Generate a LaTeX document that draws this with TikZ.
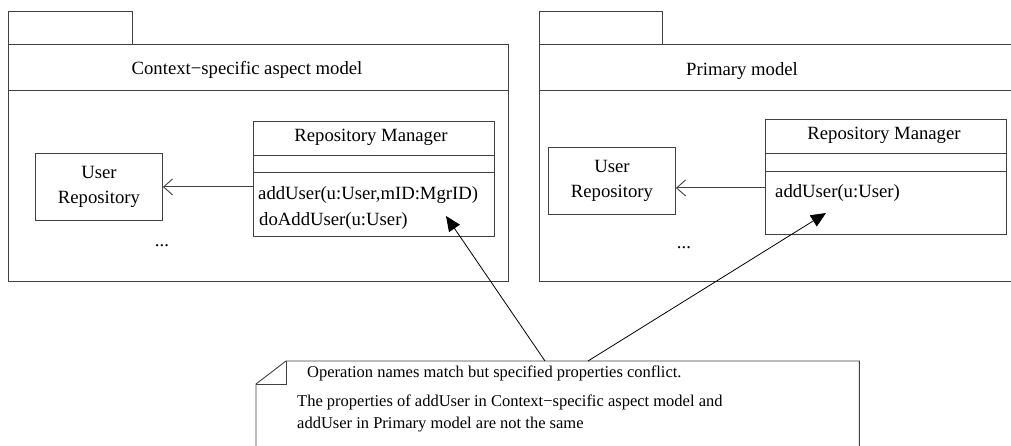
\documentclass[tikz,border=0pt]{standalone}
\usepackage{fontspec}
\setmainfont{Liberation Serif}
\usetikzlibrary{arrows.meta}
\begin{document}
\begin{tikzpicture}[x=1pt,y=-1pt,
  ln/.style={draw=black!75, line width=0.9pt},
  lbl/.style={font=\fontsize{18.7}{22}\selectfont, inner sep=0pt},
  notelbl/.style={font=\fontsize{16.5}{20}\selectfont, inner sep=0pt, anchor=west},
  box/.style={ln, anchor=north west, inner sep=0pt},
  frame/.style={anchor=north west, inner sep=0pt},
  assoc/.style={ln, -{Straight Barb[length=9pt,width=16pt]}},
  conn/.style={draw=black, line width=0.8pt, -{Triangle[length=15pt,width=13pt]}},
]
\useasboundingbox (0,0) rectangle (1011,446);
% ---------- left package
\node[box, minimum width=124pt, minimum height=33pt] (ltab) at (8,11) {};
\node[box, minimum width=500pt, minimum height=237pt] (lbody) at (8,44) {};
\draw[ln] ([yshift=-46pt]lbody.north west) -- ([yshift=-46pt]lbody.north east);
\node[lbl] (ltitle) at (247,70) {Context−specific aspect model};
% user repository
\node[box, minimum width=127pt, minimum height=67pt] (lur) at (35,153) {};
\node[lbl, align=center] (lurt) at (lur.center) {User\\[3pt]Repository};
% repository manager
\node[box, minimum width=241pt, minimum height=115pt] (lrm) at (253,121) {};
\draw[ln] ([yshift=-34pt]lrm.north west) -- ([yshift=-34pt]lrm.north east);
\draw[ln] ([yshift=-51pt]lrm.north west) -- ([yshift=-51pt]lrm.north east);
\node[lbl] (lrmt) at (371,137) {Repository Manager};
\node[lbl, anchor=west] (lop1) at (258,195) {addUser(u:User,mID:MgrID)};
\node[lbl, anchor=west] (lop2) at (259,221) {doAddUser(u:User)};
\node[lbl] (ldots) at (162,246) {...};
\draw[assoc] (lrm.west |- lur.east) -- (lur.east);
% ---------- right package
\node[box, minimum width=123pt, minimum height=33pt] (rtab) at (539,11) {};
\node[box, minimum width=480pt, minimum height=237pt] (rbody) at (539,44) {};
\draw[ln] ([yshift=-46pt]rbody.north west) -- ([yshift=-46pt]rbody.north east);
\node[lbl] (rtitle) at (742,71) {Primary model};
\node[box, minimum width=127pt, minimum height=67pt] (rur) at (548,147) {};
\node[lbl, align=center] (rurt) at (rur.center) {User\\[3pt]Repository};
\node[box, minimum width=241pt, minimum height=115pt] (rrm) at (765,119) {};
\draw[ln] ([yshift=-34pt]rrm.north west) -- ([yshift=-34pt]rrm.north east);
\draw[ln] ([yshift=-52pt]rrm.north west) -- ([yshift=-52pt]rrm.north east);
\node[lbl] (rrmt) at (884,135) {Repository Manager};
\node[lbl, anchor=west] (rop1) at (775,193) {addUser(u:User)};
\node[lbl] (rdots) at (684,248) {...};
\coordinate (rae) at ([yshift=-7pt]rur.east);
\draw[assoc] (rrm.west |- rae) -- (rae);
% ---------- note
\node[frame, minimum width=603pt, minimum height=100pt] (note) at (256,361) {};
\draw[ln] ([yshift=-23pt]note.north west) -- ([xshift=30pt]note.north west)
  -- (note.north east) -- (note.south east) -- (note.south west) -- cycle;
\draw[ln] ([yshift=-23pt]note.north west) -- ([xshift=30pt,yshift=-23pt]note.north west)
  -- ([xshift=30pt]note.north west);
\node[notelbl] (n1) at (307,373) {Operation names match but specified properties conflict.};
\node[notelbl] (n2) at (297,402) {The properties of addUser in Context−specific aspect model and};
\node[notelbl] (n3) at (297,425) {addUser in Primary model are not the same};
% ---------- connectors
\coordinate (nL) at ([xshift=289pt]note.north west);
\coordinate (nR) at ([xshift=332pt]note.north west);
\coordinate (tipL) at (446,216);
\coordinate (tipR) at (826,213);
\draw[conn] (nL) -- (tipL);
\draw[conn] (nR) -- (tipR);
\end{tikzpicture}
\end{document}
